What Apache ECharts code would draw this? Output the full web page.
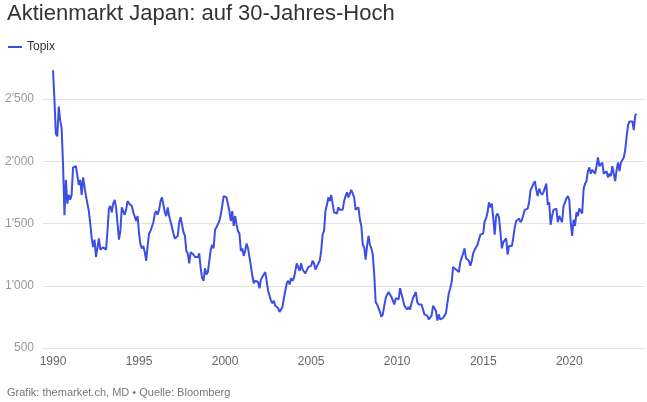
<!DOCTYPE html>
<html>
<head>
<meta charset="utf-8">
<script src="https://cdn.jsdelivr.net/npm/echarts@6/dist/echarts.min.js"></script>
<style>
  html, body { margin: 0; padding: 0; background: #fff; }
  #chart { width: 647px; height: 402px; }
</style>
</head>
<body>
<div id="chart"></div>
<script>
// Topix, Monatswerte ab Januar 1990
const startYear = 1990
const topix1990s = [
  2731, 2500, 2220, 2200, 2440, 2330, 2270, 1980, 1567, 1850, 1660, 1730,
  1690, 1730, 1950, 1960, 1960, 1950, 1810, 1850, 1730, 1870, 1880, 1720,
  1710, 1600, 1500, 1380, 1310, 1370, 1230, 1220, 1380, 1290, 1290, 1310,
  1300, 1290, 1440, 1620, 1640, 1590, 1660, 1690, 1630, 1630, 1370, 1440,
  1630, 1600, 1570, 1610, 1680, 1660, 1650, 1640, 1590, 1580, 1520, 1560,
  1420, 1330, 1300, 1320, 1270, 1200, 1320, 1420, 1440, 1430, 1510, 1580,
  1600, 1570, 1610, 1680, 1710, 1710, 1590, 1560, 1630, 1560, 1560, 1470,
  1420, 1380, 1370, 1400, 1510, 1550, 1540, 1430, 1400, 1280, 1260, 1180,
  1270, 1260, 1250, 1230, 1220, 1230, 1260, 1140, 1060, 1040, 1140, 1090,
  1110, 1120, 1290, 1330, 1300, 1450, 1470, 1460, 1520, 1570, 1640, 1720
]
const topix2000s = [
  1710, 1710, 1700, 1600, 1520, 1600, 1480, 1560, 1490, 1440, 1420, 1280,
  1300, 1240, 1280, 1340, 1300, 1300, 1160, 1080, 1020, 1040, 1050, 1030,
  980, 1050, 1060, 1090, 1110, 1040, 960, 960, 880, 860, 880, 840,
  840, 820, 790, 780, 830, 900, 960, 1020, 1040, 1010, 1060, 1040,
  1060, 1070, 1180, 1170, 1120, 1180, 1130, 1130, 1100, 1110, 1150, 1150,
  1160, 1200, 1180, 1130, 1140, 1180, 1200, 1280, 1410, 1440, 1600, 1650,
  1710, 1680, 1730, 1720, 1590, 1590, 1580, 1630, 1610, 1620, 1610, 1680,
  1720, 1750, 1710, 1700, 1770, 1770, 1710, 1610, 1620, 1630, 1530, 1480,
  1330, 1310, 1210, 1320, 1400, 1330, 1300, 1250, 1090, 870, 850, 860,
  790, 750, 770, 840, 900, 930, 950, 960, 910, 880, 850, 900
]
const topix2010s = [
  900, 890, 980, 990, 890, 840, 850, 810, 830, 810, 860, 900,
  910, 950, 870, 850, 840, 850, 840, 770, 760, 760, 730, 730,
  760, 840, 850, 800, 720, 770, 730, 730, 740, 740, 780, 860,
  940, 980, 1030, 1150, 1140, 1130, 1130, 1110, 1190, 1190, 1260, 1300,
  1220, 1210, 1200, 1160, 1200, 1260, 1290, 1280, 1330, 1330, 1410, 1410,
  1420, 1520, 1540, 1590, 1670, 1630, 1660, 1540, 1410, 1560, 1580, 1550,
  1430, 1300, 1350, 1340, 1380, 1250, 1320, 1330, 1320, 1390, 1470, 1520,
  1520, 1540, 1510, 1530, 1570, 1610, 1620, 1620, 1670, 1770, 1790, 1820,
  1840, 1770, 1720, 1780, 1750, 1730, 1750, 1740, 1820, 1650, 1670, 1490,
  1560, 1610, 1600, 1620, 1510, 1560, 1560, 1510, 1640, 1670, 1700, 1720
]
const topix2020s = [
  1690, 1510, 1400, 1530, 1480, 1590, 1560, 1620, 1620, 1580, 1780, 1820,
  1840, 1920, 1950, 1900, 1930, 1940, 1900, 1960, 2030, 1960, 1950, 1990,
  1900, 1890, 1920, 1870, 1900, 1880, 1960, 1960, 1840, 1930, 1990, 1920,
  1990, 2000, 2030, 2090, 2200, 2290, 2320, 2330, 2320, 2250, 2370, 2380
]
const yearTicks = [1990, 1995, 2000, 2005, 2010, 2015, 2020]

const topix = [].concat(topix1990s, topix2000s, topix2010s, topix2020s)
const seriesData = topix.map((v, i) => [startYear + i / 12, v])

const fontFamily = '"Liberation Sans", Arial, sans-serif'

const chart = echarts.init(document.getElementById('chart'))
chart.setOption({
  animation: false,
  textStyle: { fontFamily: fontFamily },
  title: [
    {
      text: 'Aktienmarkt Japan: auf 30-Jahres-Hoch',
      left: 7,
      top: 3,
      padding: 0,
      textStyle: { fontSize: 22, fontWeight: 'normal', color: '#333', fontFamily: fontFamily }
    },
    {
      text: 'Grafik: themarket.ch, MD • Quelle: Bloomberg',
      left: 7,
      top: 387,
      padding: 0,
      textStyle: { fontSize: 11, fontWeight: 'normal', color: '#777', fontFamily: fontFamily }
    }
  ],
  legend: {
    data: ['Topix'],
    left: 8,
    top: 41,
    padding: 0,
    icon: 'rect',
    itemWidth: 14,
    itemHeight: 2,
    textStyle: { fontSize: 12, color: '#333', fontFamily: fontFamily }
  },
  grid: {
    left: 43,
    right: 2,
    top: 99,
    bottom: 54
  },
  xAxis: {
    type: 'value',
    min: 1989.42,
    max: 2024.4,
    axisLine: { show: false },
    axisTick: { show: false },
    splitLine: { show: false },
    axisLabel: {
      customValues: yearTicks,
      formatter: v => String(v),
      color: '#666',
      fontSize: 12,
      margin: 8
    }
  },
  yAxis: {
    type: 'value',
    min: 500,
    max: 2500,
    interval: 500,
    axisLine: { show: false },
    axisTick: { show: false },
    splitLine: { lineStyle: { color: '#e2e2e2', width: 1 } },
    axisLabel: {
      color: '#999',
      fontSize: 12,
      margin: 9,
      formatter: v => String(v).replace(/\B(?=(\d{3})+(?!\d))/g, "'")
    }
  },
  series: [
    {
      name: 'Topix',
      type: 'line',
      showSymbol: false,
      clip: false,
      color: '#3b4fe4',
      lineStyle: { width: 2, color: '#3b4fe4' },
      data: seriesData
    }
  ]
})
</script>
</body>
</html>
